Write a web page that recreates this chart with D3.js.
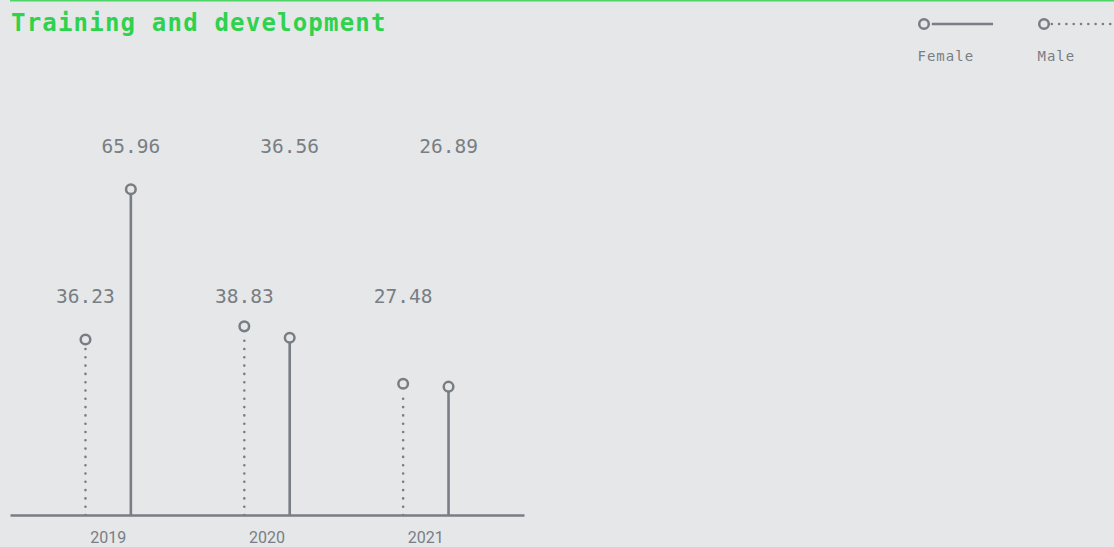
<!DOCTYPE html>
<html>
<head>
<meta charset="utf-8">
<script src="https://cdn.jsdelivr.net/npm/d3@7/dist/d3.min.js"></script>
<style>
  html, body { margin: 0; padding: 0; background: #e6e7e9; }
  svg { display: block; }
</style>
</head>
<body>
<svg id="chart" width="1114" height="547"></svg>
<script>
// Average training hours per employee, by year and gender
const years = ["2019", "2020", "2021"];
const genders = ["Male", "Female"];
const maleValues = [36.23, 38.83, 27.48];
const femaleValues = [65.96, 36.56, 26.89];
const titleText = "Training and development";

const W = 1114, H = 547;
const ink = "#787e84";
const bg = "#e6e7e9";
const green = "#2fd24c";

const svg = d3.select("#chart");
svg.append("rect").attr("width", W).attr("height", H).attr("fill", bg);

// thin accent rule along the top edge
svg.append("line")
  .attr("x1", 10).attr("x2", W).attr("y1", 0.75).attr("y2", 0.75)
  .attr("stroke", "#4fd468").attr("stroke-width", 1.5);

svg.append("text")
  .attr("x", 11).attr("y", 31)
  .attr("fill", green)
  .attr("font-family", "'DejaVu Sans Mono', monospace")
  .attr("font-weight", "bold")
  .attr("font-size", 24)
  .attr("letter-spacing", 1.2)
  .text(titleText);

// rows of records
const data = years.map((yr, i) => ({
  year: yr,
  Male: maleValues[i],
  Female: femaleValues[i]
}));

const baseY = 515;
const x0 = d3.scaleBand().domain(years).range([10, 524]).paddingInner(0).paddingOuter(0.118);
const x1 = d3.scalePoint().domain(genders).range([0, x0.bandwidth()]).padding(1.25);
const y = d3.scaleLinear().domain([0, 70]).range([522.5, 168.9]);

const r = 4.8;
const styles = {
  Male: { dash: "0 8.3", width: 2.6, cap: "round" },
  Female: { dash: null, width: 2.6, cap: "butt" }
};

// label rows sit above the tallest mark of each series
const labelRow = { Female: 152.5, Male: 303.3 };

const groups = svg.append("g").selectAll("g")
  .data(data).join("g")
  .attr("transform", d => `translate(${x0(d.year)},0)`);

genders.forEach(g => {
  groups.append("line")
    .attr("x1", x1(g)).attr("x2", x1(g))
    .attr("y1", baseY)
    .attr("y2", d => y(d[g]) + r + (g === "Male" ? 3 : 0))
    .attr("stroke", ink)
    .attr("stroke-width", styles[g].width)
    .attr("stroke-linecap", styles[g].cap)
    .attr("stroke-dasharray", styles[g].dash);

  groups.append("circle")
    .attr("cx", x1(g))
    .attr("cy", d => y(d[g]))
    .attr("r", r)
    .attr("fill", bg)
    .attr("stroke", ink)
    .attr("stroke-width", 2.5);

  groups.append("text")
    .attr("x", x1(g))
    .attr("y", labelRow[g])
    .attr("text-anchor", "middle")
    .attr("fill", ink)
    .attr("font-family", "'DejaVu Sans Mono', monospace")
    .attr("font-size", 19.5)
    .text(d => d[g].toFixed(2));
});

// baseline axis with year labels
const axis = svg.append("g")
  .attr("transform", `translate(0,${baseY})`)
  .call(d3.axisBottom(x0).tickSize(0).tickSizeOuter(0));
axis.select(".domain").attr("stroke", ink).attr("stroke-width", 2.5);
axis.selectAll("text")
  .attr("y", 28).attr("dy", 0)
  .attr("fill", ink)
  .attr("font-family", "Roboto, sans-serif")
  .attr("font-size", 16);

// legend
const legend = [
  { key: "Female", x: 924, lineEnd: 993 },
  { key: "Male", x: 1044, lineEnd: 1118 }
];
const lg = svg.append("g").selectAll("g").data(legend).join("g");
lg.append("line")
  .attr("x1", d => d.x + r + 3).attr("x2", d => d.lineEnd)
  .attr("y1", 24).attr("y2", 24)
  .attr("stroke", ink)
  .attr("stroke-width", d => styles[d.key].width)
  .attr("stroke-linecap", d => styles[d.key].cap)
  .attr("stroke-dasharray", d => styles[d.key].dash ? "0 7.3" : null);
lg.append("circle")
  .attr("cx", d => d.x).attr("cy", 24).attr("r", r)
  .attr("fill", bg).attr("stroke", ink).attr("stroke-width", 2.5);
lg.append("text")
  .attr("x", d => d.x - 6.5).attr("y", 61)
  .attr("fill", ink)
  .attr("font-family", "'DejaVu Sans Mono', monospace")
  .attr("font-size", 14)
  .attr("letter-spacing", 1)
  .text(d => d.key);
</script>
</body>
</html>
